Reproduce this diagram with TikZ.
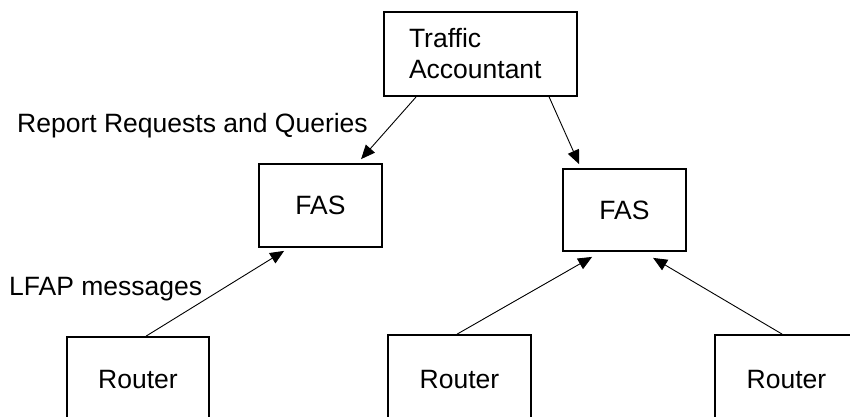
\documentclass[tikz,border=0pt]{standalone}
\usepackage{fontspec}
\setmainfont{Liberation Sans}
\usetikzlibrary{arrows.meta}
\tikzset{
  box/.style={draw,line width=1.8pt,inner sep=0pt},
  feed/.style={line width=0.9pt,-{Triangle[length=14pt,width=12pt]}}
}
\begin{document}
\begin{tikzpicture}[x=1pt,y=-1pt,font=\fontsize{26.5}{31}\selectfont]
\useasboundingbox (0,0) rectangle (850,416);
\clip (0,0) rectangle (850,416);
\node[box,text width=143pt,inner xsep=25pt,minimum height=84pt,align=left] (ta) at (480.5,54) {Traffic\\Accountant};
\node[box,minimum width=123pt,minimum height=83pt] (fasa) at (320.5,205.5) {FAS};
\node[box,minimum width=123pt,minimum height=82pt] (fasb) at (624.5,210) {FAS};
\node[box,minimum width=142pt,minimum height=86pt] (rta) at (138,380) {Router};
\node[box,minimum width=143pt,minimum height=90pt] (rtb) at (459.5,380) {Router};
\node[box,minimum width=143pt,minimum height=90pt] (rtc) at (786.5,380) {Router};
\node[anchor=base west,inner sep=0pt] (lblreq) at (17,132) {Report Requests and Queries};
\node[anchor=base west,inner sep=0pt] (lbllfap) at (9,295) {LFAP messages};
\draw[feed] ([xshift=33pt]ta.south west) -- ([xshift=103pt,yshift=4pt]fasa.north west);
\draw[feed] ([xshift=166pt]ta.south west) -- ([xshift=17pt,yshift=4pt]fasb.north west);
\draw[feed] ([xshift=80pt]rta.north west) -- ([xshift=26pt,yshift=-3pt]fasa.south west);
\draw[feed] ([xshift=70pt]rtb.north west) -- ([xshift=30pt,yshift=-5pt]fasb.south west);
\draw[feed] ([xshift=68pt]rtc.north west) -- ([xshift=91pt,yshift=-6pt]fasb.south west);
\end{tikzpicture}
\end{document}
